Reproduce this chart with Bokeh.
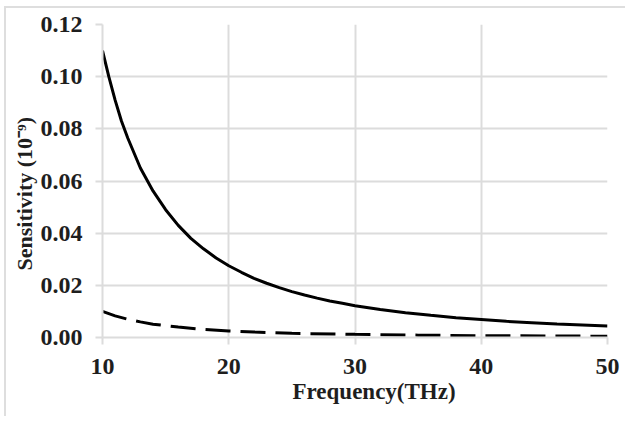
from bokeh.plotting import figure
from bokeh.models import Range1d, FixedTicker, NumeralTickFormatter, Title
from bokeh.embed import file_html
from bokeh.resources import INLINE

freq_solid = [10, 10.5, 11, 11.5, 12, 13, 14, 15, 16, 17, 18, 19, 20, 21, 22, 23, 24, 25,
              26, 27, 28, 29, 30, 32, 34, 36, 38, 40, 42, 44, 46, 48, 50]
sens_solid = [0.110, 0.100, 0.091, 0.083, 0.0765, 0.065, 0.0562, 0.049, 0.043, 0.038,
              0.034, 0.0305, 0.0275, 0.025, 0.0227, 0.0208, 0.0191, 0.0176, 0.0163,
              0.0151, 0.0140, 0.0131, 0.0122, 0.0107, 0.0095, 0.0085, 0.0076, 0.0069,
              0.0062, 0.0057, 0.0052, 0.0048, 0.0044]

freq_dash = [10, 11, 12, 13, 14, 16, 18, 20, 22, 25, 30, 35, 40, 45, 50]
sens_dash = [0.010, 0.0083, 0.0070, 0.0060, 0.0051, 0.0040, 0.0031, 0.0025, 0.0021,
             0.0016, 0.0012, 0.0009, 0.0007, 0.0006, 0.0005]

x_ticks = [10, 20, 30, 40, 50]
y_ticks = [0.0, 0.02, 0.04, 0.06, 0.08, 0.10, 0.12]

x_title = "Frequency(THz)"
y_title = "Sensitivity (10\u207b\u2079)"

FONT = "Liberation Serif"
GRID = "#dcdcdc"
TXT = "#1e1e1e"

p = figure(width=625, height=416, output_backend="svg", toolbar_location=None,
           x_range=Range1d(10, 50), y_range=Range1d(0, 0.12))
p.min_border_left = 102
p.min_border_right = 18
p.min_border_top = 24
p.min_border_bottom = 79
p.outline_line_color = None
p.background_fill_color = "white"
p.border_fill_color = None
p.styles = {"box-shadow": "inset 4px 6px 0 0 white, inset 6px 8px 0 0 #dedede"}

p.line(freq_solid, sens_solid, line_color="black", line_width=3)
p.line(freq_dash, sens_dash, line_color="black", line_width=3, line_dash="25 10")

p.xaxis.ticker = FixedTicker(ticks=x_ticks)
p.yaxis.ticker = FixedTicker(ticks=y_ticks)
p.yaxis.formatter = NumeralTickFormatter(format="0.00")

for ax in (p.xaxis, p.yaxis):
    ax.axis_line_color = GRID
    ax.axis_line_width = 2
    ax.major_tick_line_color = GRID
    ax.major_tick_line_width = 2
    ax.major_tick_out = 7
    ax.major_tick_in = 0
    ax.minor_tick_line_color = None
    ax.major_label_text_font = FONT
    ax.major_label_text_font_style = "bold"
    ax.major_label_text_font_size = "24px"
    ax.major_label_text_color = TXT
p.xaxis.major_label_standoff = 14
p.yaxis.major_label_standoff = 13

p.xgrid.grid_line_color = GRID
p.ygrid.grid_line_color = GRID
p.xgrid.grid_line_width = 2
p.ygrid.grid_line_width = 2

p.add_layout(Title(text=x_title, align="left", offset=190, standoff=0,
                   text_font=FONT, text_font_style="bold", text_font_size="23px",
                   text_color=TXT), "below")
p.add_layout(Title(text=y_title, align="left", offset=67, standoff=2,
                   text_font=FONT, text_font_style="bold", text_font_size="22px",
                   text_color=TXT), "left")

open("out.html", "w").write(file_html(p, INLINE))
